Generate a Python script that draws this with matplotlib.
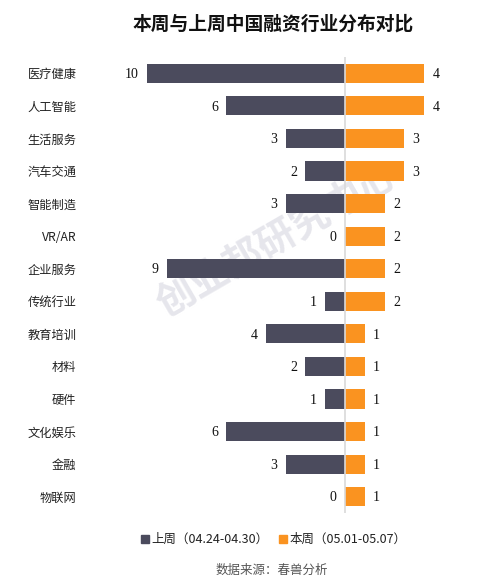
import matplotlib
matplotlib.use("Agg")
import matplotlib.pyplot as plt
from matplotlib.transforms import offset_copy
from matplotlib.patches import Rectangle

plt.rcParams['font.family'] = ['Noto Sans CJK SC', 'DejaVu Sans']

categories = ["医疗健康", "人工智能", "生活服务", "汽车交通", "智能制造", "VR/AR", "企业服务",
              "传统行业", "教育培训", "材料", "硬件", "文化娱乐", "金融", "物联网"]
last_week = [10, 6, 3, 2, 3, 0, 9, 1, 4, 2, 1, 6, 3, 0]
this_week = [4, 4, 3, 3, 2, 2, 2, 2, 1, 1, 1, 1, 1, 1]
legend_labels = ["上周（04.24-04.30）", "本周（05.01-05.07）"]
title = "本周与上周中国融资行业分布对比"
source = "数据来源：春兽分析"

c_dark = "#4b4b5d"
c_orange = "#fa9320"

W, H = 492, 584
fig = plt.figure(figsize=(W / 100, H / 100), dpi=100)
ax_l, ax_r, ax_t, ax_b = 100, 470, 57, 513
ax = fig.add_axes([ax_l / W, 1 - ax_b / H, (ax_r - ax_l) / W, (ax_b - ax_t) / H])

ppu = 19.8
ax.set_xlim((ax_l - 345) / ppu, (ax_r - 345) / ppu)
ax.set_ylim(len(categories) - 0.5, -0.5)

y = list(range(len(categories)))
ax.barh(y, [-v for v in last_week], height=0.59, color=c_dark, zorder=2)
ax.barh(y, this_week, height=0.59, color=c_orange, zorder=2)
ax.axvline(0, color="#d9d9d9", lw=1.2, zorder=3)

fs_val = 10
for i in y:
    tl = offset_copy(ax.transData, fig=fig, x=-6, y=-3.4, units='points')
    ax.text(-last_week[i], i, str(last_week[i]), transform=tl, ha='right', va='baseline',
            fontsize=fs_val, family='Liberation Serif', color='#111111')
    tr = offset_copy(ax.transData, fig=fig, x=6, y=-3.4, units='points')
    ax.text(this_week[i], i, str(this_week[i]), transform=tr, ha='left', va='baseline',
            fontsize=fs_val, family='Liberation Serif', color='#111111')

ax.set_yticks(y)
ax.set_yticklabels(categories, fontsize=8.8, color='#222222')
ax.tick_params(axis='y', length=0, pad=17)
ax.set_xticks([])
for s in ax.spines.values():
    s.set_visible(False)

fig.text(273 / W, 1 - 24 / H, title, ha='center', va='center', fontsize=13.5,
         fontweight='bold', color='#111111')

# watermark (behind the bars)
ax.text(278 / W, 1 - 240 / H, "创业邦研究中心", ha='center', va='center', fontsize=28,
        fontweight='bold', color='#e6e6ec', rotation=30, zorder=1,
        transform=fig.transFigure)

# legend
ly = 1 - 539 / H
fig.patches.append(Rectangle((141 / W, ly - 4 / H), 8 / W, 8 / H, transform=fig.transFigure,
                             color=c_dark, figure=fig))
fig.text(151 / W, ly, legend_labels[0], ha='left', va='center', fontsize=9, color='#222222')
fig.patches.append(Rectangle((279 / W, ly - 4 / H), 8 / W, 8 / H, transform=fig.transFigure,
                             color=c_orange, figure=fig))
fig.text(289 / W, ly, legend_labels[1], ha='left', va='center', fontsize=9, color='#222222')

fig.text(272 / W, 1 - 570 / H, source, ha='center', va='center', fontsize=9, color='#555555')

fig.savefig("out.png", dpi=100)
